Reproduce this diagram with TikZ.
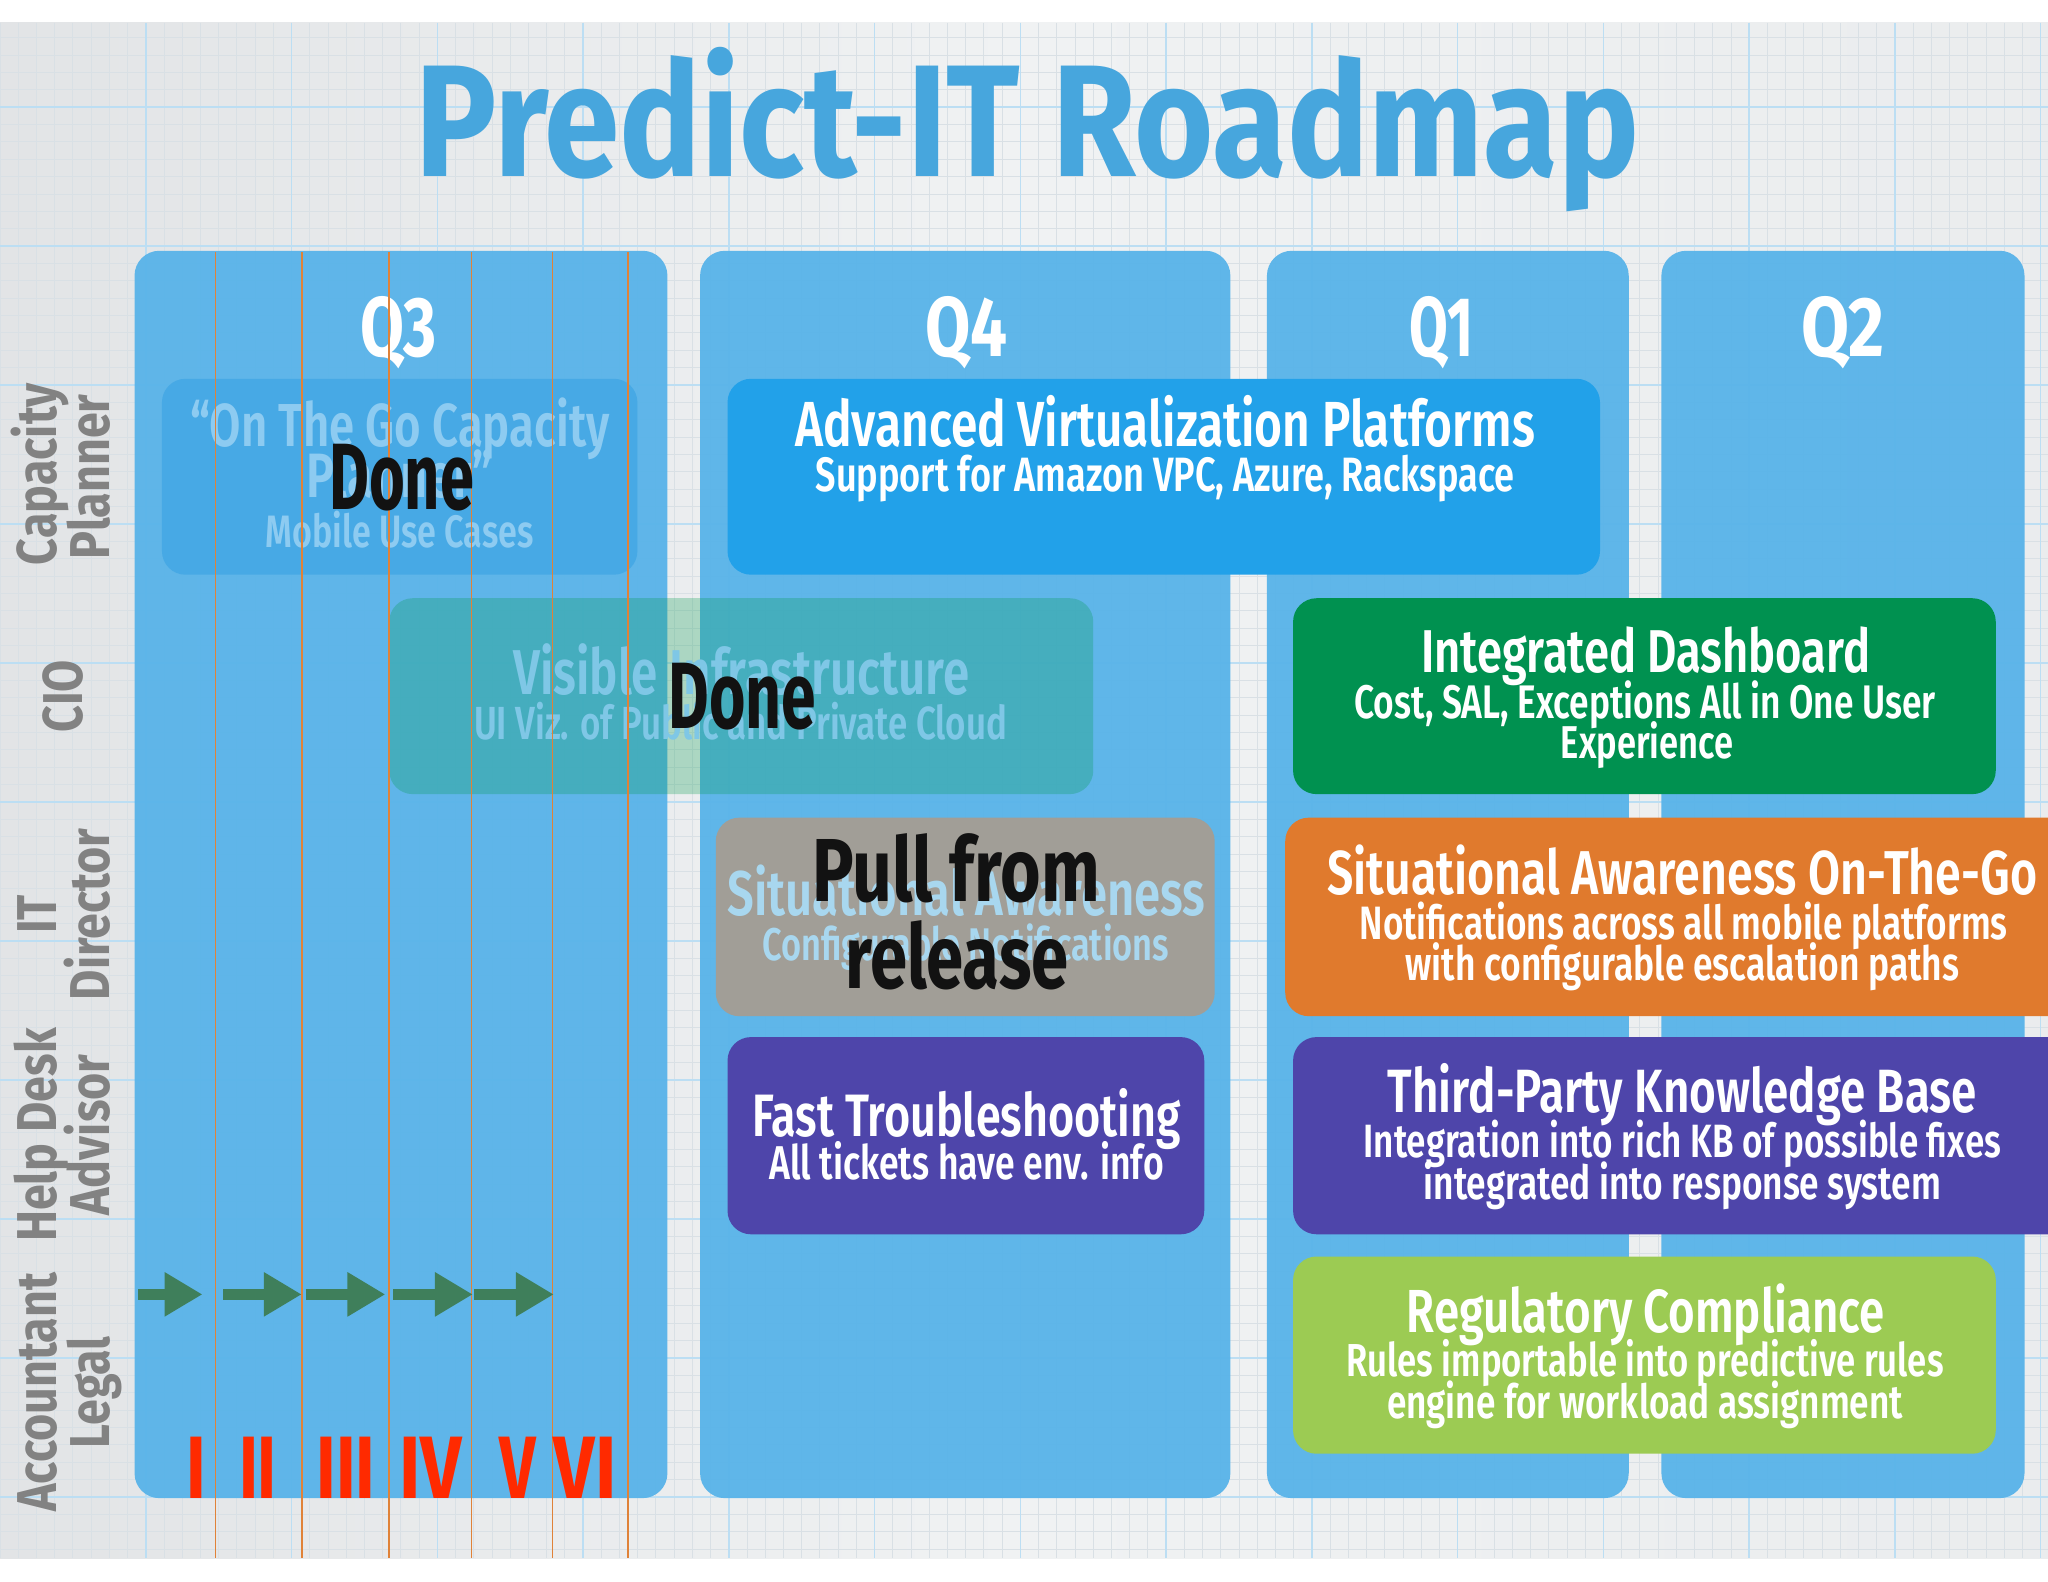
\documentclass[tikz,border=0pt]{standalone}
\usepackage{fontspec}
\usepackage{graphicx}
\usetikzlibrary{arrows.meta}
\newfontfamily\hand{Fira Sans}[FakeStretch=0.75, UprightFont=* SemiBold, BoldFont=* Bold]
\newfontfamily\labf{Fira Sans}[FakeStretch=0.83]
\newcommand{\fw}[2]{\resizebox{#1}{!}{#2}}
\definecolor{bgc}{HTML}{F0F2F3}
\definecolor{bgedge}{HTML}{E2E4E6}
\definecolor{minorc}{HTML}{D9E0E5}
\definecolor{majorc}{HTML}{BCDEF3}
\definecolor{colc}{HTML}{58B3E9}
\definecolor{titlec}{HTML}{47A6DD}
\definecolor{advc}{HTML}{22A1E9}
\definecolor{otgc}{HTML}{47A9E5}
\definecolor{otgtext}{HTML}{8DCBF1}
\definecolor{visc}{HTML}{009A4C}
\definecolor{vistext}{HTML}{7FC7E6}
\definecolor{grayc}{HTML}{A19E97}
\definecolor{sittext}{HTML}{A8D7EF}
\definecolor{greenc}{HTML}{009150}
\definecolor{orangec}{HTML}{E07A2D}
\definecolor{purplec}{HTML}{4E45AA}
\definecolor{limec}{HTML}{9CCB53}
\definecolor{labc}{HTML}{828282}
\definecolor{arrc}{HTML}{3F7F5B}
\definecolor{numc}{HTML}{FF2A00}
\definecolor{linec}{HTML}{E08238}
\begin{document}
\begin{tikzpicture}[x=1pt,y=-1pt,
  colbox/.style={fill=colc, fill opacity=0.95, rounded corners=19pt, inner sep=0pt, draw=none},
  card/.style={rounded corners=18pt, inner sep=0pt, draw=none},
  tl/.style={anchor=base, inner sep=0pt, font=\hand, text=white},
  ql/.style={anchor=base, inner sep=0pt, font=\hand\bfseries, text=white},
  rowlab/.style={anchor=base, inner sep=0pt, rotate=90, text=labc, font=\labf\bfseries\fontsize{43}{43}\selectfont},
  donet/.style={anchor=base, inner sep=0pt, font=\hand\bfseries, text=black!93},
  numl/.style={anchor=base, inner sep=0pt, font=\labf\bfseries, text=numc},
  mline/.style={draw=linec, line width=1.3pt},
  garrow/.style={draw=arrc, line width=8pt, -{Triangle[length=29pt 0,width=32pt 0]}}]
\useasboundingbox (0,0) rectangle (1568,1211);
% background
\fill[white] (0,0) rectangle (1568,1211);
\shade[left color=bgedge, right color=bgc!60!bgedge, middle color=bgc] (0,17.4) rectangle (1568,1193);
\foreach \k in {0,...,112} \draw[minorc, line width=0.7pt] (\k*13.95,17.4) -- (\k*13.95,1193);
\foreach \k in {-4,...,83} \draw[minorc, line width=0.7pt] (0,82+\k*13.3) -- (1568,82+\k*13.3);
\foreach \k in {1,...,14} \draw[majorc, line width=1.2pt] (\k*111.6,17.4) -- (\k*111.6,1193);
\foreach \k in {0,...,10} \draw[majorc, line width=1.2pt] (0,82+\k*106.4) -- (1568,82+\k*106.4);
% title
\node[anchor=north, inner sep=0pt, text=titlec, font=\hand\bfseries] (title) at (786.5,36)
  {\resizebox*{937pt}{126pt}{Predict-IT Roadmap}};
% columns
\node[colbox, minimum width=408pt, minimum height=955pt] (q3) at (307,669.5) {};
\node[colbox, minimum width=406pt, minimum height=955pt] (q4) at (739,669.5) {};
\node[colbox, minimum width=277pt, minimum height=955pt] (q1) at (1108.5,669.5) {};
\node[colbox, minimum width=278pt, minimum height=955pt] (q2) at (1411,669.5) {};
\node[ql] (q3l) at (305,273) {\resizebox{58pt}{46pt}{Q3}};
\node[ql] (q4l) at (740,273) {\resizebox{63pt}{46pt}{Q4}};
\node[ql] (q1l) at (1104,273) {\resizebox{49pt}{46pt}{Q1}};
\node[ql] (q2l) at (1411,273) {\resizebox{63pt}{46pt}{Q2}};
% row labels
\node[rowlab] (r1a) at (43,363) {Capacity};
\node[rowlab] (r1b) at (84,365) {Planner};
\node[rowlab] (r2a) at (63,533) {CIO};
\node[rowlab] (r3a) at (43,700) {IT};
\node[rowlab] (r3b) at (84,700) {Director};
\node[rowlab] (r4a) at (43,869) {Help Desk};
\node[rowlab] (r4b) at (84,869) {Advisor};
\node[rowlab] (r5a) at (43,1066) {Accountant};
\node[rowlab] (r5b) at (84,1066) {Legal};
% cards
\node[card, fill=otgc, minimum width=364pt, minimum height=150pt] (otg) at (306,365) {};
\node[tl, text=otgtext] (otg1) at (306,342) {\fw{321pt}{“On The Go Capacity}};
\node[tl, text=otgtext] (otg2) at (306,381) {\fw{143pt}{Planner”}};
\node[tl, text=otgtext] (otg3) at (306,419) {\fw{205pt}{Mobile Use Cases}};

\node[card, fill=advc, minimum width=668pt, minimum height=150pt] (adv) at (891,365) {};
\node[tl] (adv1) at (892,342) {\fw{566pt}{Advanced Virtualization Platforms}};
\node[tl] (adv2) at (892,376) {\fw{535pt}{Support for Amazon VPC, Azure, Rackspace}};

\node[card, fill=visc, fill opacity=0.27, minimum width=539pt, minimum height=150pt] (vis) at (567.5,533) {};
\node[tl, text=vistext] (vis1) at (567.5,532) {\fw{349pt}{Visible Infrastructure}};
\node[tl, text=vistext] (vis2) at (567,566) {\fw{408pt}{UI Viz. of Public and Private Cloud}};

\node[card, fill=greenc, minimum width=538pt, minimum height=150pt] (dash) at (1259,533) {};
\node[tl] (dash1) at (1260,515) {\fw{344pt}{Integrated Dashboard}};
\node[tl] (dash2) at (1259.5,550) {\fw{445pt}{Cost, SAL, Exceptions All in One User}};
\node[tl] (dash3) at (1261,581) {\fw{132pt}{Experience}};

\node[card, fill=grayc, minimum width=382pt, minimum height=152pt] (sit) at (739,702) {};
\node[tl, text=sittext] (sit1) at (740,701) {\fw{366pt}{Situational Awareness}};
\node[tl, text=sittext] (sit2) at (739.5,735) {\fw{311pt}{Configurable Notifications}};

\node[card, fill=orangec, minimum width=606pt, minimum height=152pt] (sitgo) at (1287,702) {};
\node[tl] (sitgo1) at (1288,685) {\fw{543pt}{Situational Awareness On-The-Go}};
\node[tl] (sitgo2) at (1289,719) {\fw{496pt}{Notifications across all mobile platforms}};
\node[tl] (sitgo3) at (1288,751) {\fw{424pt}{with configurable escalation paths}};

\node[card, fill=purplec, minimum width=365pt, minimum height=151pt] (fast) at (739.5,869.5) {};
\node[tl] (fast1) at (740,870) {\fw{328pt}{Fast Troubleshooting}};
\node[tl] (fast2) at (740,903) {\fw{302pt}{All tickets have env. info}};

\node[card, fill=purplec, minimum width=600pt, minimum height=151pt] (kb) at (1290,869.5) {};
\node[tl] (kb1) at (1288,852) {\fw{451pt}{Third-Party Knowledge Base}};
\node[tl] (kb2) at (1288,886) {\fw{488pt}{Integration into rich KB of possible fixes}};
\node[tl] (kb3) at (1288,918) {\fw{396pt}{integrated into response system}};

\node[card, fill=limec, minimum width=538pt, minimum height=151pt] (reg) at (1259,1037.5) {};
\node[tl] (reg1) at (1260,1020) {\fw{366pt}{Regulatory Compliance}};
\node[tl] (reg2) at (1259.5,1054) {\fw{457pt}{Rules importable into predictive rules}};
\node[tl] (reg3) at (1259.5,1086) {\fw{395pt}{engine for workload assignment}};
% orange sprint lines
\coordinate (l1t) at (165,193); \coordinate (l1b) at (165,1193);
\coordinate (l2t) at (231,193); \coordinate (l2b) at (231,1193);
\coordinate (l3t) at (298,193); \coordinate (l3b) at (298,1193);
\coordinate (l4t) at (361,193); \coordinate (l4b) at (361,1193);
\coordinate (l5t) at (423,193); \coordinate (l5b) at (423,1193);
\coordinate (l6t) at (481,193); \coordinate (l6b) at (481,1193);
\foreach \i in {1,...,6} \draw[mline] (l\i t) -- (l\i b);
% green arrows
\coordinate (a1s) at (106,991); \coordinate (a1e) at (155,991);
\coordinate (a2s) at (171,991); \coordinate (a2e) at (231,991);
\coordinate (a3s) at (234,991); \coordinate (a3e) at (295,991);
\coordinate (a4s) at (301,991); \coordinate (a4e) at (362,991);
\coordinate (a5s) at (363,991); \coordinate (a5e) at (424,991);
\foreach \i in {1,...,5} \draw[garrow] (a\i s) -- (a\i e);
% numerals
\node[numl] (n1) at (150,1147) {\resizebox{15pt}{47pt}{I}};
\node[numl] (n2) at (197.5,1147) {\resizebox{29pt}{47pt}{II}};
\node[numl] (n3) at (265,1147) {\resizebox{45pt}{47pt}{III}};
\node[numl] (n4) at (330,1147) {\resizebox{48pt}{47pt}{IV}};
\node[numl] (n5) at (396.5,1147) {\resizebox{28pt}{47pt}{V}};
\node[numl] (n6) at (448,1147) {\resizebox{48pt}{47pt}{VI}};
% overlays
\node[donet] (done1) at (307.5,390) {\resizebox{111pt}{50pt}{Done}};
\node[donet] (done2) at (568.5,558) {\resizebox{113pt}{50pt}{Done}};
\node[donet] (pull1) at (732,690) {\resizebox{220pt}{52pt}{Pull from}};
\node[donet] (pull2) at (732.5,757) {\resizebox{171pt}{52pt}{release}};
\end{tikzpicture}
\end{document}
